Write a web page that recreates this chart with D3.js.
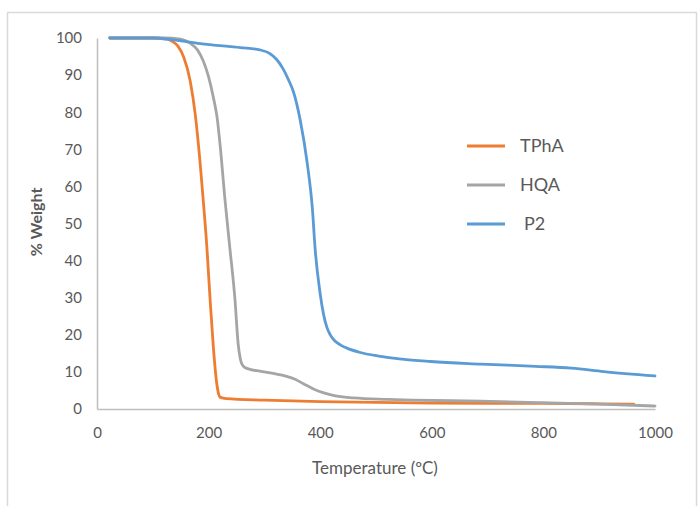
<!DOCTYPE html>
<html>
<head>
<meta charset="utf-8">
<script src="https://cdn.jsdelivr.net/npm/d3@7"></script>
<style>
  html, body { margin: 0; padding: 0; background: #fff; }
  svg { display: block; }
  text { font-family: Lato, "Open Sans", sans-serif; fill: #595959; }
</style>
</head>
<body>
<svg id="chart" width="699" height="506"></svg>
<script>
// Thermogravimetric curves: temperature (°C) vs remaining weight (%)
const seriesNames = ["TPhA", "HQA", "P2"];
const seriesColors = ["#ED7D31", "#A5A5A5", "#5B9BD5"];

const tphaTemp   = [23, 100, 125, 134, 145, 155, 167, 176, 185, 190, 197, 202.5, 208.5, 214.5, 218, 220.4, 232, 300, 400, 500, 600, 700, 800, 900, 962];
const tphaWeight = [100, 100, 99.8, 99.2, 97.8, 95, 88.4, 79.5, 66, 57, 43.4, 30, 16.7, 7, 4, 3.2, 2.8, 2.4, 2.0, 1.8, 1.6, 1.5, 1.5, 1.4, 1.3];

const hqaTemp   = [23, 120, 150, 167, 180, 190.5, 200, 208.5, 215, 222, 229, 238, 247, 253, 256.5, 259, 264, 274, 292, 316, 340, 355, 370, 388, 405, 425, 460, 520, 567, 688, 800, 900, 1000];
const hqaWeight = [100, 100, 99.7, 98.6, 96.8, 93.8, 89.5, 84, 78.8, 69, 57, 43.5, 30, 17.5, 13.8, 12.3, 11.3, 10.7, 10.2, 9.6, 8.8, 8.0, 6.8, 5.4, 4.4, 3.6, 3.0, 2.6, 2.4, 2.1, 1.7, 1.3, 0.8];

const p2Temp   = [23, 100, 136, 185, 257, 292, 310, 322, 333, 343, 352, 364, 377, 386, 391, 400, 406, 412, 418, 426, 436, 448, 470, 508, 598, 688, 786, 850, 908, 1000];
const p2Weight = [100, 100, 99.5, 98.5, 97.4, 96.8, 95.8, 94.2, 91.8, 88.8, 85.5, 78, 66, 54, 43, 31, 25.5, 22, 20, 18.4, 17.3, 16.4, 15.3, 14.2, 12.8, 12.1, 11.5, 11.0, 10.1, 8.9];

const xTicks = [0, 200, 400, 600, 800, 1000];
const yTicks = [0, 10, 20, 30, 40, 50, 60, 70, 80, 90, 100];

const series = [
  { name: seriesNames[0], color: seriesColors[0], t: tphaTemp, w: tphaWeight },
  { name: seriesNames[1], color: seriesColors[1], t: hqaTemp,  w: hqaWeight },
  { name: seriesNames[2], color: seriesColors[2], t: p2Temp,   w: p2Weight }
];

const svg = d3.select("#chart");

// outer frame
svg.append("rect")
  .attr("x", 7.5).attr("y", 12.5)
  .attr("width", 689).attr("height", 520)
  .attr("fill", "none").attr("stroke", "#d9d9d9").attr("stroke-width", 1.5);

const x = d3.scaleLinear().domain([0, 1000]).range([97, 655]);
const y = d3.scaleLinear().domain([0, 100]).range([409, 38]);

// axes
const xAxis = d3.axisBottom(x).tickValues(xTicks).tickFormat(d3.format("d")).tickSize(0).tickPadding(18);
const yAxis = d3.axisLeft(y).tickValues(yTicks).tickFormat(d3.format("d")).tickSize(0).tickPadding(15);

const gx = svg.append("g").attr("transform", `translate(0,${y(0)})`).call(xAxis);
const gy = svg.append("g").attr("transform", `translate(${x(0)},0)`).call(yAxis);

[gx, gy].forEach(g => {
  g.select(".domain").attr("stroke", "#bfbfbf").attr("stroke-width", 1.5);
  g.selectAll(".tick text")
    .style("font-family", "Lato, 'Open Sans', sans-serif")
    .style("font-size", "15px")
    .attr("fill", "#595959");
});

// axis titles
svg.append("text")
  .attr("x", 375).attr("y", 474)
  .attr("text-anchor", "middle")
  .style("font-size", "17px")
  .text("Temperature (ºC)");

svg.append("text")
  .attr("transform", "translate(42,222) rotate(-90)")
  .attr("text-anchor", "middle")
  .style("font-size", "16px")
  .style("font-weight", "bold")
  .text("% Weight");

// curves
const line = d3.line()
  .x(d => x(d[0]))
  .y(d => y(d[1]))
  .curve(d3.curveMonotoneX);

series.forEach(s => {
  const pts = s.t.map((t, i) => [t, s.w[i]]);
  svg.append("path")
    .datum(pts)
    .attr("d", line)
    .attr("fill", "none")
    .attr("stroke", s.color)
    .attr("stroke-width", 2.8)
    .attr("stroke-linejoin", "round")
    .attr("stroke-linecap", "round");
});

// legend
const legendY = [146, 185, 224];
const legendTextX = [520, 520, 524];
series.forEach((s, i) => {
  svg.append("line")
    .attr("x1", 467).attr("x2", 505)
    .attr("y1", legendY[i]).attr("y2", legendY[i])
    .attr("stroke", s.color).attr("stroke-width", 2.8);
  svg.append("text")
    .attr("x", legendTextX[i]).attr("y", legendY[i] + 6)
    .style("font-size", "18px")
    .text(s.name);
});
</script>
</body>
</html>
